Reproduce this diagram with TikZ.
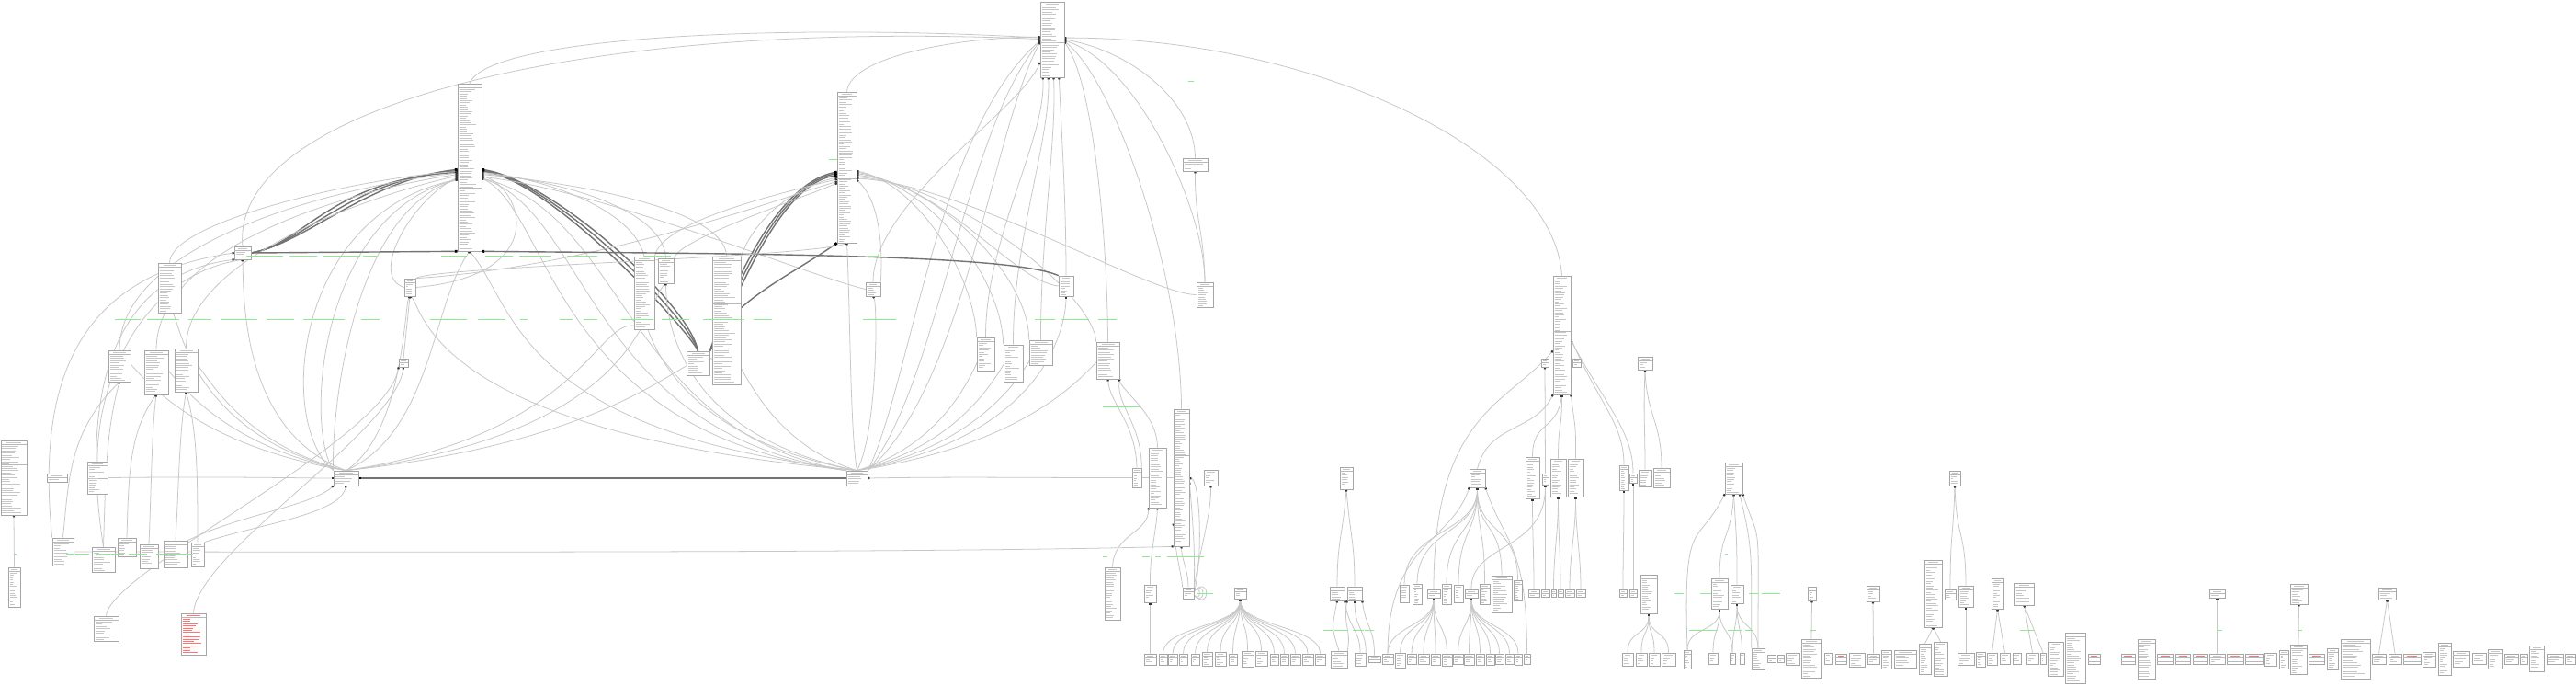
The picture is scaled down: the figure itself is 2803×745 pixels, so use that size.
\documentclass[tikz,border=0pt]{standalone}
\usepackage{tikz}
\usetikzlibrary{arrows.meta,fit}
\pgfdeclarelayer{bg}
\pgfdeclarelayer{links}
\pgfsetlayers{bg,links,main}
\colorlet{rowk}{black!22}
\colorlet{rowr}{red!55}
\definecolor{lblgreen}{HTML}{8CEB8C}

\tikzset{
  tbl/.style={draw=black!35, fill=white, line width=0.18pt, inner sep=0pt, rectangle},
  tblsep/.style={draw=black!28, line width=0.15pt},
  rowline/.style={line width=0.16pt},
  link/.style={draw=black!22, line width=0.22pt},
  fk/.style={link, -{Square[length=0.6pt,width=0.6pt,color=black!80]}},
  heavy/.style={draw=black!55, line width=0.4pt, -{Square[length=0.8pt,width=0.8pt,color=black]}},
  glabel/.style={draw=lblgreen, line width=0.22pt},
}

% one table: name, x1, y1, x2, y2, extra separator (0 none, -1 empty), text colour
\newcommand\tbl[7]{%
  \node[tbl, fit={(#2,#3) (#4,#5)}] (#1) {};
  \pgfmathsetmacro\tmid{(#2+#4)/2}%
  \pgfmathsetmacro\thw{(#4-#2)*0.28}%
  \draw[rowline, draw=#7] (\tmid-\thw,#3+2) -- (\tmid+\thw,#3+2);
  \draw[tblsep] (#2,#3+4) -- (#4,#3+4);
  \ifnum#6>0 \draw[tblsep] (#2,#6) -- (#4,#6);\fi
  \ifnum#6<0
    \draw[tblsep] (#2,#3+8) -- (#4,#3+8);
  \else
    \pgfmathsetmacro\ys{#3+6.3}%
    \pgfmathsetmacro\yt{#3+8.7}%
    \pgfmathsetmacro\ye{#5-1.2}%
    \ifdim\yt pt<\ye pt
      \foreach \yy in {\ys,\yt,...,\ye}{%
        \pgfmathsetmacro\len{(#4-#2-3)*(0.3+0.55*rnd)}%
        \draw[rowline, draw=#7] (#2+1.5,\yy) -- ++(\len,0);}%
    \else
      \ifdim\ys pt<\ye pt
        \draw[rowline, draw=#7] (#2+1.5,\ys) -- ++({(#4-#2-3)*0.6},0);
      \fi
    \fi
  \fi}

\begin{document}
\begin{tikzpicture}[x=0.01cm, y=-0.01cm]
\pgfmathsetseed{11}
\begin{pgfonlayer}{bg}
  \path[fill=white, use as bounding box] (0,0) rectangle (2803,745);
\end{pgfonlayer}

% upper part
\foreach \n/\xa/\ya/\xb/\yb/\sp/\cl in {
  T0/1132/2/1158/84/46/rowk, A/498/91/524/273/204/rowk, B/911/100/932/264/194/rowk,
  L1/255/268/273/282/0/rowk, U1/172/286/197/340/0/rowk, U2/440/303/452/322/0/rowk,
  U3/434/390/444/399/0/rowk, U4/118/381/142/415/0/rowk, U5/157/381/183/429/0/rowk,
  U6/190/379/215/426/0/rowk, C1/690/279/712/358/0/rowk, C2/716/281/733/308/0/rowk,
  C3/747/382/772/408/0/rowk, C4/775/279/806/418/330/rowk, C6/942/307/958/322/0/rowk,
  C7/1063/367/1082/403/0/rowk, C8/1092/375/1113/415/0/rowk, C9/1120/370/1145/397/0/rowk,
  R1/1152/300/1168/322/0/rowk, C11/1193/372/1218/412/0/rowk, C12/1287/172/1314/186/0/rowk,
  C13/1302/307/1320/334/0/rowk, N1/363/512/390/528/0/rowk, N2/921/512/944/528/0/rowk}
  {\tbl{\n}{\xa}{\ya}{\xb}{\yb}{\sp}{\cl}}

% lower left
\foreach \n/\xa/\ya/\xb/\yb/\sp/\cl in {
  U9/1/479/29/560/505/rowk, U7/95/502/117/537/520/rowk, U8/51/515/73/524/0/rowk,
  LL1/9/617/22/660/0/rowk, LL2/57/585/80/615/0/rowk, LL3/100/595/125/622/0/rowk,
  LL4/128/585/148/605/0/rowk, LL5/152/592/172/618/0/rowk, LL6/178/588/204/617/0/rowk,
  LL7/208/590/222/616/0/rowk, LL8/102/670/129/697/0/rowk, LL9/197/667/224/712/0/rowr}
  {\tbl{\n}{\xa}{\ya}{\xb}{\yb}{\sp}{\cl}}

% middle and right
\foreach \n/\xa/\ya/\xb/\yb/\sp/\cl in {
  C14/1277/445/1294/594/495/rowk, M1/1250/487/1269/552/515/rowk, M2/1232/509/1242/530/0/rowk,
  M3/1310/511/1325/528/0/rowk, M4/1202/617/1219/674/0/rowk, M5/1245/636/1258/655/0/rowk,
  M6/1287/639/1299/651/0/rowk, Z1/1343/639/1356/651/0/rowk, M7/1458/508/1472/532/0/rowk,
  M8/1447/638/1463/653/0/rowk, M9/1466/638/1482/653/0/rowk, P0/1599/510/1616/530/0/rowk,
  p1/1523/636/1533/655/0/rowk, p2/1537/635/1547/657/0/rowk, p3/1553/641/1567/650/0/rowk,
  p4/1569/635/1579/657/0/rowk, p5/1582/636/1592/655/0/rowk, p6/1594/641/1608/650/0/rowk,
  p7/1610/635/1621/657/0/rowk, p8/1623/626/1645/666/0/rowk, p9/1647/631/1656/653/0/rowk,
  F0/1690/300/1709/429/360/rowk, F1/1677/390/1685/399/0/rowk, F2/1711/390/1720/399/0/rowk,
  F3/1660/497/1675/542/0/rowk, F4/1678/515/1685/527/0/rowk, F5/1687/499/1704/540/0/rowk,
  F6/1706/499/1723/540/0/rowk, F7/1762/506/1772/533/0/rowk, F8/1773/515/1781/525/0/rowk,
  F9/1782/388/1798/402/0/rowk, F10/1783/511/1797/529/0/rowk, F11/1799/509/1817/530/0/rowk,
  s1/1663/641/1675/649/0/rowk, s2/1677/641/1686/649/0/rowk, s3/1688/641/1693/649/0/rowk,
  s4/1695/641/1701/649/0/rowk, s5/1703/641/1713/649/0/rowk, s6/1715/641/1725/649/0/rowk,
  s7/1762/641/1770/649/0/rowk, s8/1773/641/1781/649/0/rowk,
  G0/1785/625/1803/667/0/rowk, H0/1877/503/1896/537/0/rowk, H1/1862/629/1880/662/0/rowk,
  H2/1883/636/1897/656/0/rowk, J1/1967/638/1976/653/0/rowk, J2/2031/637/2045/654/0/rowk,
  J3/2094/609/2113/682/0/rowk, J4/2121/512/2133/528/0/rowk, J4a/2116/641/2128/652/0/rowk,
  J4b/2131/637/2147/660/0/rowk, J5/2167/629/2180/662/0/rowk, J6/2192/634/2213/658/0/rowk,
  K1/2404/641/2421/650/0/rowk, K2/2492/635/2511/657/0/rowk, K3/2588/639/2607/652/0/rowk}
  {\tbl{\n}{\xa}{\ya}{\xb}{\yb}{\sp}{\cl}}

% bottom row
\foreach \n/\xa/\ya/\xb/\yb/\sp/\cl in {
  q1/1245/711/1258/723/0/rowk, q2/1261/711/1270/723/0/rowk, q3/1271/711/1281/723/0/rowk,
  q4/1283/711/1292/723/0/rowk, q5/1296/711/1305/723/0/rowk, q6/1308/709/1319/724/0/rowk,
  q7/1322/709/1334/724/0/rowk, q8/1337/711/1346/723/0/rowk, q9/1351/708/1364/725/0/rowk,
  q10/1366/708/1379/724/0/rowk, q11/1382/711/1391/723/0/rowk, q12/1393/711/1402/723/0/rowk,
  q13/1404/711/1415/723/0/rowk, q14/1417/711/1429/723/0/rowk, q15/1431/711/1442/723/0/rowk,
  M10/1448/708/1466/726/0/rowk, M11/1474/710/1486/724/0/rowk, M12/1489/713/1502/720/0/rowk,
  r1/1504/711/1516/722/0/rowk, r2/1518/710/1529/726/0/rowk, r3/1531/711/1541/722/0/rowk,
  r4/1543/711/1555/722/0/rowk, r5/1557/711/1567/723/0/rowk, r6/1569/711/1580/724/0/rowk,
  r7/1581/711/1592/722/0/rowk, r8/1593/711/1604/723/0/rowk, r9/1606/711/1615/723/0/rowk,
  r10/1617/711/1626/723/0/rowk, r11/1627/711/1636/722/0/rowk, r12/1638/711/1647/722/0/rowk,
  r13/1648/711/1656/723/0/rowk, r14/1658/711/1665/722/0/rowk,
  g1/1765/710/1777/724/0/rowk, g2/1780/710/1792/724/0/rowk, g3/1794/710/1806/724/0/rowk,
  g4/1808/710/1823/724/0/rowk, h1/1832/707/1840/727/0/rowk, h2/1859/710/1869/722/0/rowk,
  h3/1882/710/1888/722/0/rowk, h4/1893/710/1898/722/0/rowk, h5/1906/705/1920/728/0/rowk,
  t1/1923/712/1932/720/0/rowk, t2/1934/712/1941/720/0/rowk, t3/1943/710/1958/723/0/rowk,
  j1/1960/695/1982/737/0/rowk, t4/1985/710/1993/722/0/rowk, t5/1997/711/2009/722/-1/rowr,
  t6/2012/710/2029/725/0/rowk, j2/2032/711/2045/722/0/rowk, t7/2047/707/2058/727/0/rowk,
  t8/2061/707/2085/726/0/rowk, j3a/2088/700/2101/733/0/rowk, j3b/2104/698/2119/735/0/rowk,
  j4/2130/710/2148/723/0/rowk, t9/2150/709/2160/725/0/rowk, j5a/2162/710/2173/723/0/rowk,
  j5b/2176/710/2187/722/0/rowk, t10/2190/710/2199/722/0/rowk, j6a/2205/710/2218/722/0/rowk,
  j6b/2220/710/2226/722/0/rowk, t11/2229/698/2245/735/0/rowk, t12/2247/688/2269/743/0/rowk,
  t13/2272/711/2285/722/-1/rowr}
  {\tbl{\n}{\xa}{\ya}{\xb}{\yb}{\sp}{\cl}}
\foreach \n/\xa/\ya/\xb/\yb/\sp/\cl in {
  u1/2308/711/2323/722/-1/rowr, u2/2326/695/2345/738/0/rowk, u3/2347/711/2365/722/-1/rowr,
  u4/2367/711/2383/722/-1/rowr, u5/2386/711/2402/722/-1/rowr, k1/2404/711/2421/722/0/rowk,
  u6/2423/711/2441/722/-1/rowr, u7/2443/711/2462/722/-1/rowr, u8/2464/710/2477/724/0/rowk,
  u9/2480/707/2490/727/0/rowk, k2/2492/701/2510/733/0/rowk, u10/2512/711/2529/722/-1/rowr,
  u11/2532/705/2544/728/0/rowk, u12/2547/695/2579/738/0/rowk, k3a/2581/711/2596/722/0/rowk,
  k3b/2599/711/2613/722/0/rowk, u13/2615/711/2634/722/-1/rowr, u14/2636/709/2650/725/0/rowk,
  u15/2653/699/2667/734/0/rowk, u16/2669/708/2687/725/0/rowk, u17/2690/710/2705/722/0/rowk,
  u18/2707/706/2723/727/0/rowk, u19/2725/711/2740/722/0/rowk, u20/2742/711/2750/722/0/rowk,
  u21/2752/702/2768/730/0/rowk, u22/2771/711/2789/722/0/rowk, u23/2791/711/2802/722/0/rowk}
  {\tbl{\n}{\xa}{\ya}{\xb}{\yb}{\sp}{\cl}}

\begin{pgfonlayer}{links}
% arcs round the top table
\draw[fk] (L1.north) .. controls (250,120) and (620,20) .. (T0.178);
\draw[fk] (A.north) .. controls (530,40) and (850,25) .. (T0.172);
\draw[fk] (B.north) .. controls (925,60) and (1050,40) .. (T0.168);
\draw[fk] (F0.north) .. controls (1690,160) and (1420,40) .. (T0.8);
\draw[fk] (C12.north) .. controls (1300,110) and (1230,55) .. (T0.0);
\draw[fk] (C13.north) .. controls (1311,230) and (1240,70) .. (T0.-4);
\draw[fk] (C14.north) .. controls (1285,300) and (1215,90) .. (T0.-8);
\draw[fk] (C11.north) .. controls (1205,260) and (1190,90) .. (T0.-12);
\draw[fk] (R1.north) .. controls (1160,220) and (1155,140) .. (T0.-80);
\draw[fk] (C9.north) .. controls (1132,260) and (1150,150) .. (T0.-88);
\draw[fk] (C8.north) .. controls (1102,260) and (1144,150) .. (T0.-96);
\draw[fk] (C7.north) .. controls (1072,260) and (1139,150) .. (T0.-104);
\draw[fk] (C6.north) .. controls (950,220) and (1110,120) .. (T0.-118);
\foreach \c/\a in {990/186, 1020/190, 1050/194}
  \draw[fk] (N2.north east) .. controls (\c,420) and (\c+30,140) .. (T0.\a);
\draw[fk] (C13.north) .. controls (1310,250) and (1300,240) .. (C12.south);

% left side of A
\foreach \a/\c in {190/400, 196/380, 202/360}
  \draw[heavy] (L1.east) .. controls (330,266) and (\c,195) .. (A.\a);
\draw[fk] (U1.north) .. controls (185,240) and (400,192) .. (A.199);
\draw[fk] (U4.north) .. controls (130,260) and (380,200) .. (A.205);
\draw[fk] (U5.north) .. controls (170,265) and (390,205) .. (A.210);
\draw[fk] (U6.north) .. controls (202,280) and (410,210) .. (A.215);
\draw[fk] (U2.west) .. controls (400,300) and (450,215) .. (A.220);
\foreach \c in {300,330,360}
  \draw[fk] (N1.north west) .. controls (\c,460) and (\c+20,230) .. (A.225);

% right side of A
\foreach \a/\d in {-10/0,-14/15,-18/30}
  \draw[heavy] (C3.north) .. controls (750,330+\d) and (600,195) .. (A.\a);
\draw[fk] (C1.north) .. controls (690,230) and (600,195) .. (A.-22);
\draw[fk] (C2.north) .. controls (722,230) and (620,198) .. (A.-26);
\draw[fk] (C4.north) .. controls (790,230) and (640,200) .. (A.-30);
\draw[fk] (U2.east) .. controls (600,300) and (570,205) .. (A.-34);
\draw[fk] (C6.west) .. controls (880,300) and (650,205) .. (A.-38);
\foreach \c in {600,640,680}
  \draw[fk] (N2.north west) .. controls (\c,470) and (\c,230) .. (A.-42);

% B
\foreach \a/\d in {205/0,212/15,219/30}
  \draw[heavy] (C3.north east) .. controls (790,330+\d) and (840,200) .. (B.\a);
\draw[fk] (C4.north east) .. controls (820,240) and (860,205) .. (B.225);
\draw[fk] (C1.north east) .. controls (720,240) and (850,210) .. (B.230);
\draw[fk] (U2.north east) .. controls (650,290) and (850,215) .. (B.235);
\draw[fk] (C2.north east) .. controls (740,260) and (860,220) .. (B.238);
\draw[fk] (C7.north west) .. controls (1060,300) and (1000,200) .. (B.-20);
\draw[fk] (C8.north west) .. controls (1090,300) and (1010,200) .. (B.-26);
\draw[fk] (C9.north west) .. controls (1120,300) and (1020,200) .. (B.-32);
\draw[fk] (R1.west) .. controls (1100,305) and (1030,200) .. (B.-38);
\draw[fk] (C11.north west) .. controls (1190,320) and (1040,200) .. (B.-44);
\draw[fk] (C13.west) .. controls (1250,320) and (1050,200) .. (B.-48);
\draw[fk] (C6.north east) .. controls (960,280) and (960,220) .. (B.-52);

% long runs
\draw[heavy] (L1.east) -- (A.south west);
\draw[heavy] (R1.north west) .. controls (1100,276) and (800,276) .. (A.south east);
\draw[heavy] (C3.north east) .. controls (790,330) and (860,300) .. (B.south west);
\draw[fk] (U2.north east) .. controls (470,290) and (880,280) .. (B.south);
\foreach \s/\c in {L1/265, U1/195, U4/130, U5/170, U6/210, A/470, C1/650, C4/760, U2/440, C2/700}
  \draw[fk] (N1.north) .. controls (\c,470) and (\c,330) .. (\s.south);
\foreach \s/\c in {A/560, B/925, C4/800, C6/955, C7/1070, C8/1100, C9/1130, R1/1160, C11/1205, C1/705, C2/725, U2/460}
  \draw[fk] (N2.north) .. controls (\c,470) and (\c,330) .. (\s.south);
\draw[heavy] (N2.west) .. controls (700,520) and (500,520) .. (N1.east);
\draw[fk] (C14.west) .. controls (1150,520) and (1050,518) .. (N2.east);
\draw[fk] (LL2.east) .. controls (300,600) and (1000,602) .. (C14.south west);

% lower left
\draw[fk] (LL1.north) -- (U9.south);
\foreach \s/\t/\c in {LL2/U4/75, LL3/U4/115, LL4/U5/140, LL5/U5/165, LL6/U6/195, LL7/U6/215}
  \draw[fk] (\s.north) .. controls (\c,520) and (\c,470) .. (\t.south);
\draw[fk] (LL2.north west) .. controls (40,420) and (80,300) .. (L1.west);
\draw[fk] (LL3.north) .. controls (90,450) and (110,300) .. (L1.south west);
\draw[fk] (U7.north) .. controls (105,420) and (150,300) .. (L1.south);
\draw[fk] (U7.east) .. controls (250,518) and (330,520) .. (N1.west);
\draw[fk] (LL6.north east) .. controls (260,560) and (340,550) .. (N1.south west);
\draw[fk] (LL7.north east) .. controls (280,570) and (370,560) .. (N1.south);
\draw[fk] (U3.north) -- (U2.south);
\draw[fk] (LL9.north) .. controls (215,600) and (430,470) .. (U3.south);
\draw[fk] (LL8.north) .. controls (120,620) and (420,480) .. (U3.south west);

% middle
\draw[fk] (M5.north) .. controls (1251,600) and (1258,580) .. (M1.south);
\draw[fk] (q1.north) -- (M5.south);
\draw[fk] (M4.north) .. controls (1212,580) and (1250,580) .. (M1.south west);
\draw[fk] (M2.north) .. controls (1236,460) and (1208,440) .. (C11.south);
\draw[fk] (M2.north east) .. controls (1242,460) and (1214,440) .. (C11.south east);
\draw[fk] (M1.north) .. controls (1259,450) and (1225,430) .. (C11.-60);
\draw[fk] (M6.north) .. controls (1293,620) and (1286,610) .. (C14.south);
\draw[fk] (M6.north west) .. controls (1285,620) and (1280,610) .. (C14.-100);
\draw[fk] (M6.north east) .. controls (1300,610) and (1300,590) .. (C14.-30);
\draw[fk] (M6.east) .. controls (1310,600) and (1305,520) .. (C14.-5);
\draw[fk] (M6.north east) .. controls (1305,600) and (1318,560) .. (M3.south);
\foreach \r in {8,13,18}
  \draw[link] (M6.20) .. controls +(\r,-\r) and +(\r,\r) .. (M6.-20);
\foreach \n in {q2,q3,q4,q5,q6,q7,q8,q9,q10,q11,q12,q13,q14,q15}
  \draw[fk] (\n.north) .. controls +(0,-30) and +(0,30) .. (Z1.south);
\draw[fk] (M8.north) .. controls +(0,-50) and +(-4,50) .. (M7.south);
\draw[fk] (M9.north) .. controls +(0,-50) and +(4,50) .. (M7.south);
\draw[fk] (M10.north) .. controls +(-8,-25) and +(-6,30) .. (M8.south);
\draw[fk] (M11.north) .. controls +(0,-25) and +(4,30) .. (M8.south east);
\draw[fk] (M10.north east) .. controls +(4,-25) and +(-4,30) .. (M9.south west);
\draw[fk] (M11.north east) .. controls +(0,-25) and +(0,30) .. (M9.south);
\draw[fk] (M12.north) .. controls +(0,-30) and +(4,30) .. (M9.south east);

% right middle
\foreach \n in {p1,p2,p4,p5,p7,p8,p9}
  \draw[fk] (\n.north) .. controls +(0,-60) and +(0,50) .. (P0.south);
\draw[fk] (r1.north) .. controls +(0,-120) and +(-20,60) .. (P0.south west);
\draw[fk] (r14.north) .. controls +(0,-120) and +(20,60) .. (P0.south east);
\draw[fk] (P0.north) .. controls (1620,460) and (1670,470) .. (F0.south west);
\draw[fk] (p3.north) .. controls (1560,450) and (1640,440) .. (F0.-120);
\foreach \n in {r1,r2,r3,r4,r5,r6}
  \draw[fk] (\n.north) .. controls +(0,-30) and +(0,30) .. (p3.south);
\foreach \n in {r7,r8,r9,r10,r11,r12,r13}
  \draw[fk] (\n.north) .. controls +(0,-30) and +(0,30) .. (p6.south);
\draw[fk] (p6.north) .. controls (1600,590) and (1682,600) .. (F4.south);
\draw[fk] (F3.north) .. controls +(0,-40) and +(-5,40) .. (F0.south);
\draw[fk] (F5.north) .. controls +(0,-40) and +(0,40) .. (F0.south);
\draw[fk] (F6.north) .. controls +(0,-40) and +(5,40) .. (F0.south east);
\draw[fk] (F4.north) -- (F1.south);
\draw[fk] (F7.north) .. controls (1767,460) and (1740,440) .. (F0.-20);
\draw[fk] (F8.north) .. controls (1777,470) and (1750,445) .. (F0.-30);
\draw[fk] (F10.north) .. controls +(0,-50) and +(-2,50) .. (F9.south);
\draw[fk] (F11.north) .. controls +(0,-50) and +(2,50) .. (F9.south);
\foreach \s/\t in {s1/F3, s2/F4, s3/F5, s4/F5, s5/F6, s6/F6, s7/F7, s8/F8}
  \draw[fk] (\s.north) .. controls +(0,-40) and +(0,40) .. (\t.south);
\foreach \n in {g1,g2,g3,g4}
  \draw[fk] (\n.north) .. controls +(0,-25) and +(0,25) .. (G0.south);
\draw[fk] (h1.north) .. controls +(-5,-150) and +(-30,60) .. (H0.south west);
\draw[fk] (H1.north) .. controls +(0,-50) and +(-3,50) .. (H0.south);
\draw[fk] (H2.north) .. controls +(0,-50) and +(3,50) .. (H0.south);
\draw[fk] (h5.north) .. controls +(0,-150) and +(20,60) .. (H0.south east);
\draw[fk] (h5.north west) .. controls +(0,-100) and +(15,60) .. (H0.-70);
\foreach \s/\t in {h1/H1, h2/H1, h3/H1, h3/H2, h4/H2, h5/H2}
  \draw[fk] (\s.north) .. controls +(0,-25) and +(0,25) .. (\t.south);
\draw[fk] (j1.north) -- (J1.south);
\draw[fk] (j2.north) -- (J2.south);
\draw[fk] (j3a.north) -- (J3.south);
\draw[fk] (j3b.north) -- (J3.south);
\draw[fk] (J4a.north) .. controls +(0,-60) and +(-2,60) .. (J4.south);
\draw[fk] (J4b.north) .. controls +(0,-60) and +(2,60) .. (J4.south);
\draw[fk] (j4.north) -- (J4b.south);
\draw[fk] (j5a.north) -- (J5.south);
\draw[fk] (j5b.north) -- (J5.south);
\draw[fk] (j6a.north) -- (J6.south);
\draw[fk] (j6b.north) -- (J6.south);
\draw[fk] (k1.north) -- (K1.south);
\draw[fk] (k2.north) -- (K2.south);
\draw[fk] (k3a.north) -- (K3.south);
\draw[fk] (k3b.north) -- (K3.south);
\end{pgfonlayer}

% edge labels
\foreach \x/\y/\l in {
  125/347/28, 160/347/35, 205/347/25, 240/347/40, 290/347/30, 330/347/45, 393/347/20,
  468/347/40, 520/347/30, 566/347/8, 609/347/14, 635/347/15, 676/347/35, 720/347/30,
  765/347/45, 820/347/20, 939/347/36, 1126/347/22, 1155/347/30, 1195/347/20,
  268/278/40, 315/278/30, 352/278/40, 395/278/16, 480/278/28, 528/278/30, 565/278/35,
  617/278/33, 700/278/30, 945/278/12, 902/173/9, 1293/88/6, 15/602/3, 1200/442/40,
  72/602/25, 105/602/30, 140/602/20, 170/602/40, 1200/605/5, 1243/605/8, 1257/605/6,
  1270/605/40, 1303/645/17, 1822/645/10, 1850/645/12, 1903/645/10, 1917/645/20,
  1440/685/10, 1452/685/15, 1472/685/12, 1485/685/10, 1838/685/13, 1851/685/18,
  1880/685/15, 1899/685/9, 1970/685/6, 2198/685/15, 2412/685/6, 2500/685/5, 1877/602/3}
  \draw[glabel] (\x,\y) -- ++(\l,0);
\end{tikzpicture}
\end{document}
